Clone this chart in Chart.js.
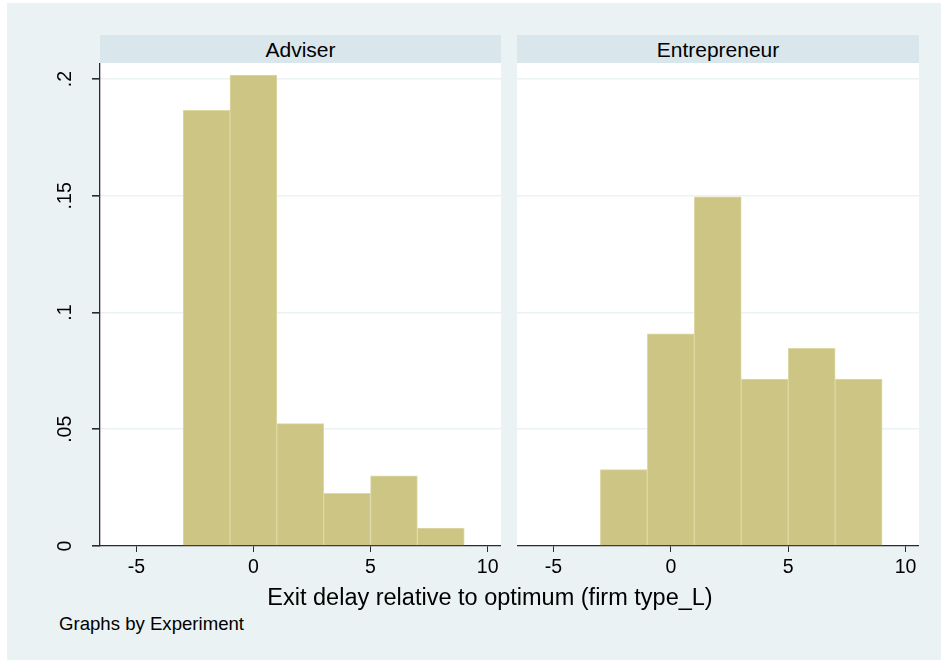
<!DOCTYPE html>
<html>
<head>
<meta charset="utf-8">
<script src="https://cdn.jsdelivr.net/npm/chart.js@4.4.1/dist/chart.umd.min.js"></script>
<style>
  html, body { margin: 0; padding: 0; background: #ffffff; }
  #graph {
    position: absolute; left: 7px; top: 3px; width: 934px; height: 657px;
    background: #eaf2f3;
  }
  .panel { position: absolute; }
  .strip {
    position: absolute; height: 28px; background: #d9e6eb;
    font-family: "Liberation Sans", Arial, sans-serif; font-size: 21px;
    color: #000; text-align: center; line-height: 29px;
  }
  .txt { position: absolute; font-family: "Liberation Sans", Arial, sans-serif; color: #000; white-space: nowrap; }
</style>
</head>
<body>
<div id="graph"></div>
<div class="strip" id="stripA" style="left:100px; top:35px; width:401px;"></div>
<div class="strip" id="stripE" style="left:517px; top:35px; width:402px;"></div>
<div class="panel" style="left:40px; top:63px; width:461px; height:523px;"><canvas id="left"></canvas></div>
<div class="panel" style="left:517px; top:63px; width:402px; height:523px;"><canvas id="right"></canvas></div>
<div class="txt" id="xtitle" style="left:0; width:980px; top:584px; text-align:center; font-size:23.5px;"></div>
<div class="txt" id="note" style="left:59px; top:613px; font-size:18.6px;"></div>
<script>
// Histogram bins (width 2, from -3 to 9) and densities per experiment
const binEdges = [-3, -1, 1, 3, 5, 7, 9];
const panelNames = ["Adviser", "Entrepreneur"];
const adviserDensity = [0.1866, 0.2017, 0.0524, 0.0226, 0.0301, 0.0077];
const entrepreneurDensity = [0.0327, 0.0909, 0.1496, 0.0715, 0.0847, 0.0715];
const xTicks = [-5, 0, 5, 10];
const yTicks = [0, 0.05, 0.1, 0.15, 0.2];
const yTickLabels = ["0", ".05", ".1", ".15", ".2"];
const xTitle = "Exit delay relative to optimum (firm type_L)";
const noteText = "Graphs by Experiment";

const X_MIN = -6.55, X_MAX = 10.57, Y_MAX = 0.2069;
const FONT = "'Liberation Sans', Arial, sans-serif";
const BAR_FILL = "#ccc583";
const BAR_EDGE = "#ddd8a4";
const GRID = "#eaf2f3";
const AXIS = "#2b2b2b";

document.getElementById("stripA").textContent = panelNames[0];
document.getElementById("stripE").textContent = panelNames[1];
document.getElementById("xtitle").textContent = xTitle;
document.getElementById("note").textContent = noteText;

// White plot region behind the grid and bars
const plotBackground = {
  id: "plotBackground",
  beforeDraw(chart) {
    const { ctx, chartArea: a } = chart;
    ctx.save();
    ctx.fillStyle = "#ffffff";
    ctx.fillRect(a.left, a.top, a.right - a.left, a.bottom - a.top);
    ctx.restore();
  }
};

function binPoints(dens) {
  return dens.map((d, i) => ({ x: (binEdges[i] + binEdges[i + 1]) / 2, y: d }));
}

function makePanel(canvasId, dens, showY) {
  const ctx = document.getElementById(canvasId);
  return new Chart(ctx, {
    type: "bar",
    plugins: [plotBackground],
    data: {
      datasets: [{
        data: binPoints(dens),
        backgroundColor: BAR_FILL,
        borderColor: BAR_EDGE,
        borderWidth: 1,
        borderSkipped: "bottom",
        barPercentage: 1,
        categoryPercentage: 1
      }]
    },
    options: {
      responsive: true,
      maintainAspectRatio: false,
      animation: false,
      layout: { padding: 0 },
      plugins: { legend: { display: false }, tooltip: { enabled: false } },
      scales: {
        x: {
          type: "linear",
          min: X_MIN, max: X_MAX,
          offset: false,
          afterBuildTicks: s => { s.ticks = xTicks.map(v => ({ value: v })); },
          afterFit: s => { s.height = 40; s.paddingLeft = 0; s.paddingRight = 0; },
          grid: { offset: false, drawOnChartArea: false, drawTicks: true, tickLength: 6, tickColor: AXIS, lineWidth: 1 },
          border: { display: true, color: AXIS, width: 1.3 },
          ticks: {
            color: "#000", padding: 4, maxRotation: 0,
            font: { family: FONT, size: 19.5 },
            callback: v => String(v)
          }
        },
        y: {
          type: "linear",
          min: 0, max: Y_MAX,
          afterBuildTicks: s => { s.ticks = yTicks.map(v => ({ value: v })); },
          afterFit: s => { s.width = showY ? 60 : 0; s.paddingTop = 0; s.paddingBottom = 0; },
          grid: {
            color: c => (c.tick && c.tick.value === 0) ? "rgba(0,0,0,0)" : GRID,
            lineWidth: 1.6,
            drawTicks: showY, tickLength: 8, tickColor: AXIS
          },
          border: { display: showY, color: AXIS, width: 1.3 },
          ticks: {
            display: showY,
            color: "#000",
            padding: 13,
            minRotation: 90, maxRotation: 90,
            crossAlign: "center",
            font: { family: FONT, size: 19.5 },
            callback: v => yTickLabels[yTicks.indexOf(v)] ?? ""
          }
        }
      }
    }
  });
}

makePanel("left", adviserDensity, true);
makePanel("right", entrepreneurDensity, false);
</script>
</body>
</html>
